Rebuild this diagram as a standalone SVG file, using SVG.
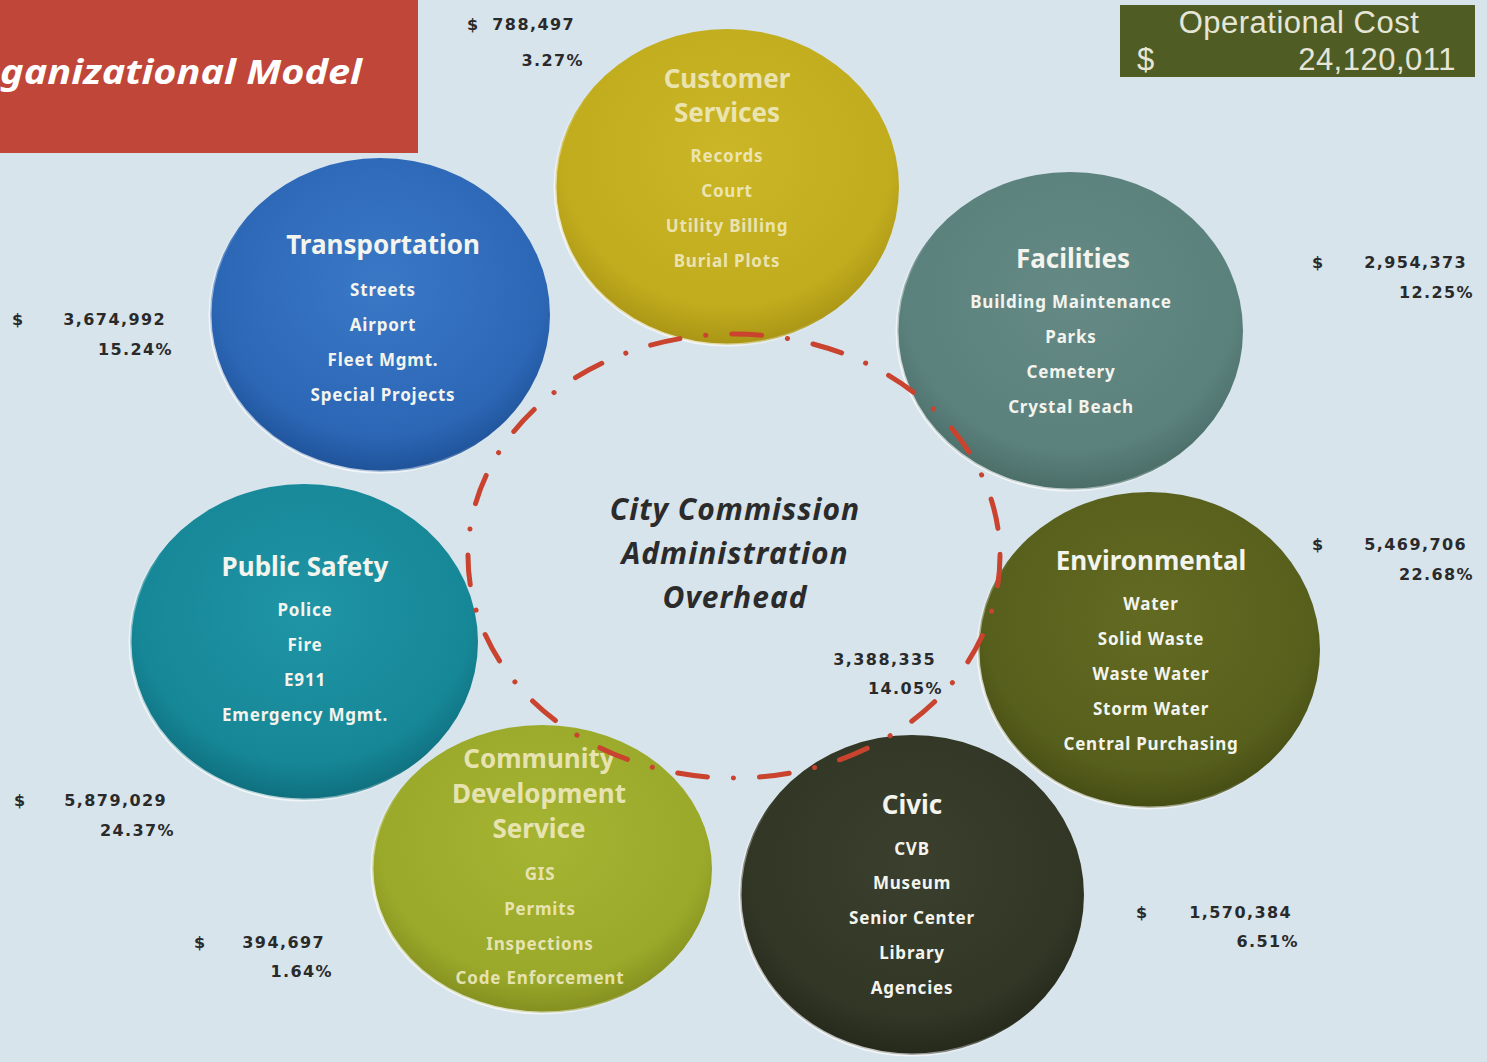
<svg xmlns="http://www.w3.org/2000/svg" width="1487" height="1062" viewBox="0 0 1487 1062">
<defs>
<radialGradient id="gTrans" cx="0.5" cy="0.4" r="0.6"><stop offset="0" stop-color="#3a78c6"/><stop offset="0.8" stop-color="#2c67b6"/><stop offset="1" stop-color="#1f5399"/></radialGradient>
<radialGradient id="gCust" cx="0.5" cy="0.4" r="0.6"><stop offset="0" stop-color="#cbb627"/><stop offset="0.8" stop-color="#c1ac1e"/><stop offset="1" stop-color="#a99515"/></radialGradient>
<radialGradient id="gFac" cx="0.5" cy="0.4" r="0.6"><stop offset="0" stop-color="#658a85"/><stop offset="0.8" stop-color="#5b817c"/><stop offset="1" stop-color="#4b6d68"/></radialGradient>
<radialGradient id="gPS" cx="0.5" cy="0.4" r="0.6"><stop offset="0" stop-color="#1f95a6"/><stop offset="0.8" stop-color="#168797"/><stop offset="1" stop-color="#0f6f7e"/></radialGradient>
<radialGradient id="gCom" cx="0.5" cy="0.4" r="0.6"><stop offset="0" stop-color="#a6b433"/><stop offset="0.8" stop-color="#9aa92a"/><stop offset="1" stop-color="#848f1f"/></radialGradient>
<radialGradient id="gCiv" cx="0.5" cy="0.4" r="0.6"><stop offset="0" stop-color="#3b3f2d"/><stop offset="0.8" stop-color="#323625"/><stop offset="1" stop-color="#25291b"/></radialGradient>
<radialGradient id="gEnv" cx="0.5" cy="0.4" r="0.6"><stop offset="0" stop-color="#626a22"/><stop offset="0.8" stop-color="#575f1c"/><stop offset="1" stop-color="#464d14"/></radialGradient>
<linearGradient id="rim" x1="1" y1="0" x2="0" y2="1">
<stop offset="0" stop-color="#ffffff" stop-opacity="0"/>
<stop offset="0.55" stop-color="#ffffff" stop-opacity="0"/>
<stop offset="0.8" stop-color="#ffffff" stop-opacity="0.75"/>
<stop offset="1" stop-color="#ffffff" stop-opacity="0.35"/>
</linearGradient>
</defs>
<style>
.bubble{stroke:url(#rim);stroke-width:3}
.title{font-family:"Noto Sans","Open Sans",sans-serif;font-weight:bold;font-size:26px;fill:#f4f4ee;text-anchor:middle}
.item{font-family:"Noto Sans","Open Sans",sans-serif;font-weight:bold;font-size:17px;letter-spacing:0.8px;fill:#f4f4ee;text-anchor:middle}
.soft{fill:#f1ebc4;fill-opacity:0.9}
.amt{font-family:"DejaVu Sans",sans-serif;font-weight:bold;font-size:16px;letter-spacing:1.4px;fill:#2a2a2a}
.end{text-anchor:end}
.center{font-family:"Noto Sans","Open Sans",sans-serif;font-weight:bold;font-style:italic;font-size:30px;letter-spacing:1px;fill:#2b2b2b;text-anchor:middle}
.ring{fill:none;stroke:#c9432f;stroke-width:5;stroke-linecap:round;stroke-dasharray:30 26 0.1 26}
.cost{font-family:"Liberation Sans",Arial,sans-serif;font-size:31px;letter-spacing:0.5px;fill:#e6e6d8}
</style>
<rect x="0" y="0" width="1487" height="1062" fill="#d7e4ec"/>

<g id="title-banner">
<rect x="0" y="0" width="418" height="153" fill="#c0463a"/>
<text x="0" y="84" textLength="362" lengthAdjust="spacingAndGlyphs" font-family="Noto Sans, Open Sans, sans-serif" font-weight="bold" font-style="italic" font-size="34" fill="#ffffff">ganizational Model</text>
</g>

<g id="operational-cost">
<rect x="1120" y="5" width="355" height="72" fill="#4f5d24"/>
<text class="cost" x="1299" y="33" text-anchor="middle">Operational Cost</text>
<text class="cost" x="1137" y="70">$</text>
<text class="cost" x="1456" y="70" text-anchor="end">24,120,011</text>
</g>

<g id="node-transportation">
<ellipse class="bubble" cx="380" cy="315" rx="170" ry="157" fill="url(#gTrans)"/>
<text class="title" x="383" y="254">Transportation</text>
<text class="item" x="383" y="296">Streets</text>
<text class="item" x="383" y="331">Airport</text>
<text class="item" x="383" y="366">Fleet Mgmt.</text>
<text class="item" x="383" y="401">Special Projects</text>
<text class="amt" x="12" y="325">$</text>
<text class="amt end" x="166" y="325">3,674,992</text>
<text class="amt end" x="173" y="355">15.24%</text>
</g>

<g id="node-customer-services">
<ellipse class="bubble" cx="727" cy="187" rx="172" ry="158" fill="url(#gCust)"/>
<text class="title soft" x="727" y="88">Customer</text>
<text class="title soft" x="727" y="122">Services</text>
<text class="item soft" x="727" y="162">Records</text>
<text class="item soft" x="727" y="197">Court</text>
<text class="item soft" x="727" y="232">Utility Billing</text>
<text class="item soft" x="727" y="267">Burial Plots</text>
<text class="amt" x="467" y="30">$</text>
<text class="amt end" x="575" y="30">788,497</text>
<text class="amt end" x="584" y="66">3.27%</text>
</g>

<g id="node-facilities">
<ellipse class="bubble" cx="1070" cy="331" rx="173" ry="159" fill="url(#gFac)"/>
<text class="title" x="1073" y="268">Facilities</text>
<text class="item" x="1071" y="308">Building Maintenance</text>
<text class="item" x="1071" y="343">Parks</text>
<text class="item" x="1071" y="378">Cemetery</text>
<text class="item" x="1071" y="413">Crystal Beach</text>
<text class="amt" x="1312" y="268">$</text>
<text class="amt end" x="1467" y="268">2,954,373</text>
<text class="amt end" x="1474" y="298">12.25%</text>
</g>

<g id="node-public-safety">
<ellipse class="bubble" cx="304" cy="642" rx="174" ry="158" fill="url(#gPS)"/>
<text class="title" x="305" y="576">Public Safety</text>
<text class="item" x="305" y="616">Police</text>
<text class="item" x="305" y="651">Fire</text>
<text class="item" x="305" y="686">E911</text>
<text class="item" x="305" y="721">Emergency Mgmt.</text>
<text class="amt" x="14" y="806">$</text>
<text class="amt end" x="167" y="806">5,879,029</text>
<text class="amt end" x="175" y="836">24.37%</text>
</g>

<g id="node-community-development">
<ellipse class="bubble" cx="542" cy="869" rx="170" ry="144" fill="url(#gCom)"/>
<text class="title soft" x="539" y="768">Community</text>
<text class="title soft" x="539" y="803">Development</text>
<text class="title soft" x="539" y="838">Service</text>
<text class="item soft" x="540" y="880">GIS</text>
<text class="item soft" x="540" y="915">Permits</text>
<text class="item soft" x="540" y="950">Inspections</text>
<text class="item soft" x="540" y="984">Code Enforcement</text>
<text class="amt" x="194" y="948">$</text>
<text class="amt end" x="325" y="948">394,697</text>
<text class="amt end" x="333" y="977">1.64%</text>
</g>

<g id="node-civic">
<ellipse class="bubble" cx="912" cy="895" rx="172" ry="160" fill="url(#gCiv)"/>
<text class="title" x="912" y="814">Civic</text>
<text class="item" x="912" y="855">CVB</text>
<text class="item" x="912" y="889">Museum</text>
<text class="item" x="912" y="924">Senior Center</text>
<text class="item" x="912" y="959">Library</text>
<text class="item" x="912" y="994">Agencies</text>
<text class="amt" x="1136" y="918">$</text>
<text class="amt end" x="1292" y="918">1,570,384</text>
<text class="amt end" x="1299" y="947">6.51%</text>
</g>

<g id="node-environmental">
<ellipse class="bubble" cx="1149" cy="650" rx="171" ry="158" fill="url(#gEnv)"/>
<text class="title" x="1151" y="570">Environmental</text>
<text class="item" x="1151" y="610">Water</text>
<text class="item" x="1151" y="645">Solid Waste</text>
<text class="item" x="1151" y="680">Waste Water</text>
<text class="item" x="1151" y="715">Storm Water</text>
<text class="item" x="1151" y="750">Central Purchasing</text>
<text class="amt" x="1312" y="550">$</text>
<text class="amt end" x="1467" y="550">5,469,706</text>
<text class="amt end" x="1474" y="580">22.68%</text>
</g>

<g id="connectors">
<ellipse class="ring" cx="734" cy="556" rx="266" ry="222"/>
</g>

<g id="node-city-commission">
<text class="center" x="735" y="520">City Commission</text>
<text class="center" x="735" y="564">Administration</text>
<text class="center" x="735" y="608">Overhead</text>
<text class="amt end" x="936" y="665">3,388,335</text>
<text class="amt end" x="943" y="694">14.05%</text>
</g>
</svg>
